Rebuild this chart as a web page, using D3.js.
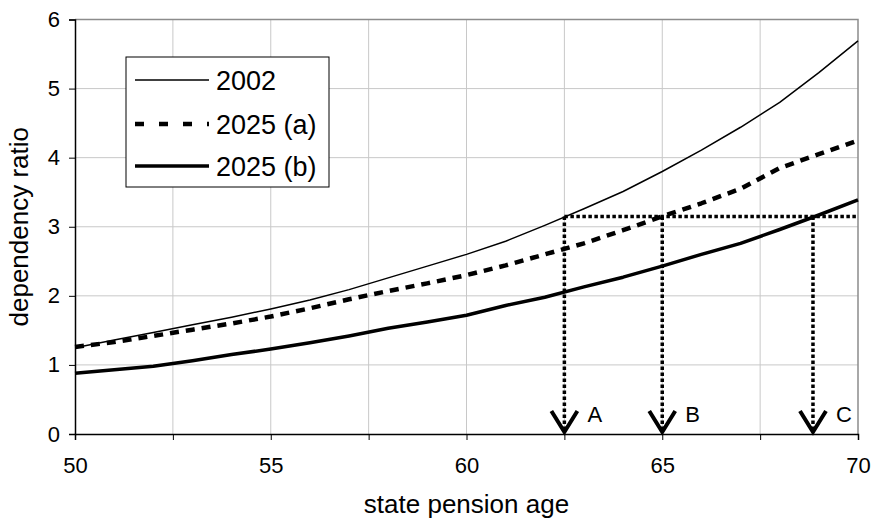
<!DOCTYPE html>
<html>
<head>
<meta charset="utf-8">
<script src="https://cdn.jsdelivr.net/npm/d3@7"></script>
<style>
  body { margin: 0; background: #fff; }
  svg { display: block; font-family: "Liberation Sans", Arial, sans-serif; }
</style>
</head>
<body>
<svg id="chart" width="872" height="522"></svg>
<script>
const ages = [50, 51, 52, 53, 54, 55, 56, 57, 58, 59, 60, 61, 62, 63, 64, 65, 66, 67, 68, 69, 70]
const ratio2002 = [1.25, 1.36, 1.47, 1.58, 1.69, 1.81, 1.94, 2.09, 2.26, 2.43, 2.60, 2.79, 3.02, 3.26, 3.51, 3.80, 4.11, 4.44, 4.80, 5.23, 5.69]
const ratio2025a = [1.26, 1.33, 1.42, 1.51, 1.60, 1.70, 1.82, 1.95, 2.07, 2.18, 2.30, 2.44, 2.60, 2.76, 2.95, 3.15, 3.34, 3.55, 3.85, 4.05, 4.25]
const ratio2025b = [0.88, 0.93, 0.98, 1.06, 1.15, 1.23, 1.32, 1.42, 1.53, 1.62, 1.72, 1.86, 1.98, 2.13, 2.27, 2.43, 2.60, 2.76, 2.96, 3.17, 3.39]
const seriesNames = ['2002', '2025 (a)', '2025 (b)']
const xTicks = [50, 52.5, 55, 57.5, 60, 62.5, 65, 67.5, 70]
const xLabels = [50, 55, 60, 65, 70]
const yTicks = [0, 1, 2, 3, 4, 5, 6]
const refLevel = 3.15
const refAges = [62.5, 65, 68.85]
const refLabels = ['A', 'B', 'C']

const margin = {left: 75, right: 14, top: 19.5, bottom: 88}
const width = 872 - margin.left - margin.right
const height = 522 - margin.top - margin.bottom

const svg = d3.select('#chart')
const g = svg.append('g')
  .attr('transform', 'translate(' + margin.left + ',' + margin.top + ')')

const x = d3.scaleLinear().domain([50, 70]).range([0, width])
const y = d3.scaleLinear().domain([0, 6]).range([height, 0])

// grid
g.append('g').selectAll('line')
  .data(xTicks.slice(1, -1))
  .enter().append('line')
  .attr('x1', d => x(d)).attr('x2', d => x(d))
  .attr('y1', 0).attr('y2', height)
  .attr('stroke', '#c8c8c8').attr('stroke-width', 1)
g.append('g').selectAll('line')
  .data(yTicks.slice(1, -1))
  .enter().append('line')
  .attr('x1', 0).attr('x2', width)
  .attr('y1', d => y(d)).attr('y2', d => y(d))
  .attr('stroke', '#c8c8c8').attr('stroke-width', 1)

// plot frame top / right
g.append('path')
  .attr('d', 'M0,0H' + width + 'V' + height)
  .attr('fill', 'none').attr('stroke', '#8c8c8c').attr('stroke-width', 1.5)

// axes
const xAxis = d3.axisBottom(x)
  .tickValues(xTicks)
  .tickSize(6)
  .tickFormat(d => xLabels.includes(d) ? d : '')
const yAxis = d3.axisLeft(y)
  .tickValues(yTicks)
  .tickSize(6)
  .tickFormat(d3.format('d'))

const gx = g.append('g')
  .attr('transform', 'translate(0,' + height + ')')
  .call(xAxis)
gx.select('.domain').attr('stroke', '#000').attr('stroke-width', 1.5)
gx.selectAll('.tick line').attr('stroke', '#000')
gx.selectAll('text').attr('font-size', 22).attr('fill', '#000').attr('dy', 30)

const gy = g.append('g').call(yAxis)
gy.select('.domain').attr('stroke', '#000').attr('stroke-width', 1.5)
gy.selectAll('.tick line').attr('stroke', '#000')
gy.selectAll('text').attr('font-size', 22).attr('fill', '#000').attr('dx', -6)

// axis titles
svg.append('text')
  .attr('x', margin.left + width / 2)
  .attr('y', 513)
  .attr('text-anchor', 'middle')
  .attr('font-size', 26)
  .text('state pension age')
svg.append('text')
  .attr('transform', 'translate(28,' + (margin.top + height / 2) + ') rotate(-90)')
  .attr('text-anchor', 'middle')
  .attr('font-size', 26)
  .text('dependency ratio')

// series
const styles = [
  {values: ratio2002, width: 1.5, dash: null, legendDash: null},
  {values: ratio2025a, width: 4.5, dash: '9,7', legendDash: '9,15'},
  {values: ratio2025b, width: 3.5, dash: null, legendDash: null}
]

const line = d3.line()
  .x((d, i) => x(ages[i]))
  .y(d => y(d))

styles.forEach(s => {
  g.append('path')
    .datum(s.values)
    .attr('fill', 'none')
    .attr('stroke', '#000')
    .attr('stroke-width', s.width)
    .attr('stroke-dasharray', s.dash)
    .attr('stroke-linejoin', 'round')
    .attr('d', line)
})

// reference lines
const dotted = '3.5,2.5'
g.append('line')
  .attr('x1', x(refAges[0])).attr('x2', width)
  .attr('y1', y(refLevel)).attr('y2', y(refLevel))
  .attr('stroke', '#000').attr('stroke-width', 3.5)
  .attr('stroke-dasharray', dotted)

const ref = g.selectAll('.ref')
  .data(refAges)
  .enter().append('g')
  .attr('class', 'ref')

ref.append('line')
  .attr('x1', d => x(d)).attr('x2', d => x(d))
  .attr('y1', y(refLevel)).attr('y2', y(0) - 4)
  .attr('stroke', '#000').attr('stroke-width', 3.5)
  .attr('stroke-dasharray', dotted)

ref.append('path')
  .attr('d', d => 'M' + (x(d) - 13) + ',' + (y(0) - 23) + 'L' + x(d) + ',' + (y(0) - 2) + 'L' + (x(d) + 13) + ',' + (y(0) - 23))
  .attr('fill', 'none')
  .attr('stroke', '#000')
  .attr('stroke-width', 4)

ref.append('text')
  .attr('x', d => x(d) + 23)
  .attr('y', y(0) - 12.5)
  .attr('font-size', 22)
  .text((d, i) => refLabels[i])

// legend
const legend = svg.append('g').attr('transform', 'translate(126,57)')
legend.append('rect')
  .attr('x', 0).attr('y', 0)
  .attr('width', 203).attr('height', 130)
  .attr('fill', '#fff')
  .attr('stroke', '#000').attr('stroke-width', 1)

const rowY = [23, 67, 109]
const item = legend.selectAll('.item')
  .data(styles)
  .enter().append('g')
  .attr('class', 'item')
  .attr('transform', (d, i) => 'translate(0,' + rowY[i] + ')')

item.append('line')
  .attr('x1', 9).attr('x2', 83)
  .attr('y1', 0).attr('y2', 0)
  .attr('stroke', '#000')
  .attr('stroke-width', d => d.width)
  .attr('stroke-dasharray', d => d.legendDash)

item.append('text')
  .attr('x', 90)
  .attr('y', 9.5)
  .attr('font-size', 27)
  .text((d, i) => seriesNames[i])
</script>
</body>
</html>
